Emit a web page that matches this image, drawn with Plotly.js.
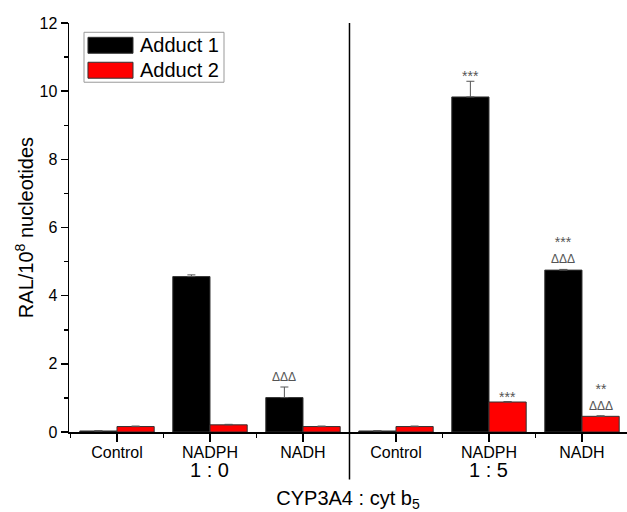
<!DOCTYPE html>
<html>
<head>
<meta charset="utf-8">
<script src="https://cdn.plot.ly/plotly-3.0.1.min.js"></script>
<style>html,body{margin:0;padding:0;background:#fff;}#chart{width:627px;height:512px;}</style>
</head>
<body>
<div id="chart"></div>
<script>
// ---- data ----
const ratios = ["1 : 0", "1 : 5"];
const treatments = ["Control", "NADPH", "NADH"];
const seriesNames = ["Adduct 1", "Adduct 2"];
const adduct1 = [0.03, 4.56, 1.01, 0.03, 9.83, 4.75];
const adduct1Err = [0.01, 0.05, 0.31, 0.01, 0.46, 0.02];
const adduct2 = [0.16, 0.21, 0.16, 0.16, 0.88, 0.46];
const adduct2Err = [0.015, 0.015, 0.015, 0.015, 0.015, 0.015];
// significance marks per bar, listed top to bottom
const adduct1Sig = [[], [], ["ΔΔΔ"], [], ["***"], ["***", "ΔΔΔ"]];
const adduct2Sig = [[], [], [], [], ["***"], ["**", "ΔΔΔ"]];
const yTitle = "RAL/10<sup>8</sup> nucleotides";
const xTitle = "CYP3A4 : cyt b<sub>5</sub>";

const FONT = "Liberation Sans, Arial, sans-serif";
const keys = [];
const labels = [];
ratios.forEach(r => treatments.forEach(t => { keys.push(t + " (" + r + ")"); labels.push(t); }));
const zeros = keys.map(() => 0);

const traces = [
  {type: "bar", name: seriesNames[0], x: keys, y: adduct1,
   marker: {color: "#000000", line: {color: "#333333", width: 1}},
   error_y: {type: "data", symmetric: false, array: adduct1Err, arrayminus: zeros, visible: true,
             color: "#555555", thickness: 1, width: 4},
   showlegend: false, hoverinfo: "y"},
  {type: "bar", name: seriesNames[1], x: keys, y: adduct2,
   marker: {color: "#ff0000", line: {color: "#333333", width: 1}},
   error_y: {type: "data", symmetric: false, array: adduct2Err, arrayminus: zeros, visible: true,
             color: "#555555", thickness: 1, width: 4},
   showlegend: false, hoverinfo: "y"},
  // helper trace so the boundary-tick axis is drawn
  {type: "scatter", mode: "none", x: keys, y: adduct1, xaxis: "x2", yaxis: "y",
   showlegend: false, hoverinfo: "skip"}
];

const range = [-0.516, 5.484];
const annotations = [];
function addSig(sigs, vals, errs, side) {
  sigs.forEach((list, i) => {
    if (!list.length) return;
    const last = list[list.length - 1];
    const lastIsStar = last.indexOf("*") >= 0;
    const txt = list.map(t => t.indexOf("*") >= 0 ? '<span style="font-size:14px">' + t + '</span>' : t).join("<br>");
    annotations.push({x: keys[i], xref: "x", y: vals[i] + errs[i], yref: "y",
      text: txt, showarrow: false, xanchor: "center", yanchor: "bottom",
      xshift: side * 18.6, yshift: lastIsStar ? -5 : 1,
      font: {family: FONT, size: 12, color: "#555555"}});
  });
}
addSig(adduct1Sig, adduct1, adduct1Err, -1);
addSig(adduct2Sig, adduct2, adduct2Err, 1);

ratios.forEach(r => {
  annotations.push({x: "NADPH (" + r + ")", xref: "x", y: -0.094, yref: "paper",
    text: r, showarrow: false, xanchor: "center", yanchor: "middle",
    font: {family: FONT, size: 20, color: "#000"}});
});

// manual legend
const legendColors = ["#000000", "#ff0000"];
const shapes = [
  {type: "line", xref: "x", x0: 2.5, x1: 2.5, yref: "paper", y0: -0.116, y1: 1,
   line: {color: "#000", width: 1.5}},
  {type: "rect", xref: "paper", yref: "paper", x0: 0.0269, x1: 0.2778, y0: 0.8552, y1: 0.9773,
   line: {color: "#999999", width: 1}, fillcolor: "rgba(0,0,0,0)"}
];
const swY = [[0.926, 0.965], [0.865, 0.904]];
const txY = [0.9458, 0.8850];
seriesNames.forEach((n, i) => {
  shapes.push({type: "rect", xref: "paper", yref: "paper", x0: 0.034, x1: 0.1147,
    y0: swY[i][0], y1: swY[i][1], fillcolor: legendColors[i], line: {color: "#333333", width: 1}});
  annotations.push({xref: "paper", yref: "paper", x: 0.1237, y: txY[i], text: n,
    showarrow: false, xanchor: "left", yanchor: "middle",
    font: {family: FONT, size: 20, color: "#000"}});
});

const layout = {
  width: 627, height: 512,
  margin: {l: 69, r: 0, t: 23, b: 80, pad: 0},
  paper_bgcolor: "#fff", plot_bgcolor: "#fff",
  font: {family: FONT, color: "#000"},
  barmode: "group", bargap: 0.2, bargroupgap: 0,
  showlegend: false,
  xaxis: {type: "category", categoryarray: keys, categoryorder: "array", range: range,
    tickvals: keys, ticktext: labels, ticks: "outside", ticklen: 8, tickwidth: 1.5, tickcolor: "#000",
    ticklabelstandoff: -3,
    showline: true, linewidth: 1.5, linecolor: "#000", showgrid: false, zeroline: false,
    tickfont: {family: FONT, size: 16, color: "#000"},
    title: {text: xTitle, font: {family: FONT, size: 20, color: "#000"}, standoff: 32}},
  xaxis2: {type: "category", categoryarray: keys, categoryorder: "array", range: range,
    overlaying: "x", anchor: "y", side: "bottom", tickson: "boundaries",
    ticks: "outside", ticklen: 5, tickwidth: 1.5, tickcolor: "#000",
    showticklabels: false, showline: false, showgrid: false, zeroline: false},
  yaxis: {range: [0, 12], dtick: 2, tick0: 0, ticks: "outside", ticklen: 7, tickwidth: 1.5, tickcolor: "#000",
    showline: true, linewidth: 1.5, linecolor: "#000", showgrid: false, zeroline: false,
    minor: {dtick: 1, ticks: "outside", ticklen: 4, tickwidth: 1.5, tickcolor: "#000", showgrid: false},
    tickfont: {family: FONT, size: 16, color: "#000"},
    title: {text: yTitle, font: {family: FONT, size: 20, color: "#000"}, standoff: 0}},
  shapes: shapes,
  annotations: annotations
};

Plotly.newPlot("chart", traces, layout, {displayModeBar: false, staticPlot: true});
</script>
</body>
</html>
